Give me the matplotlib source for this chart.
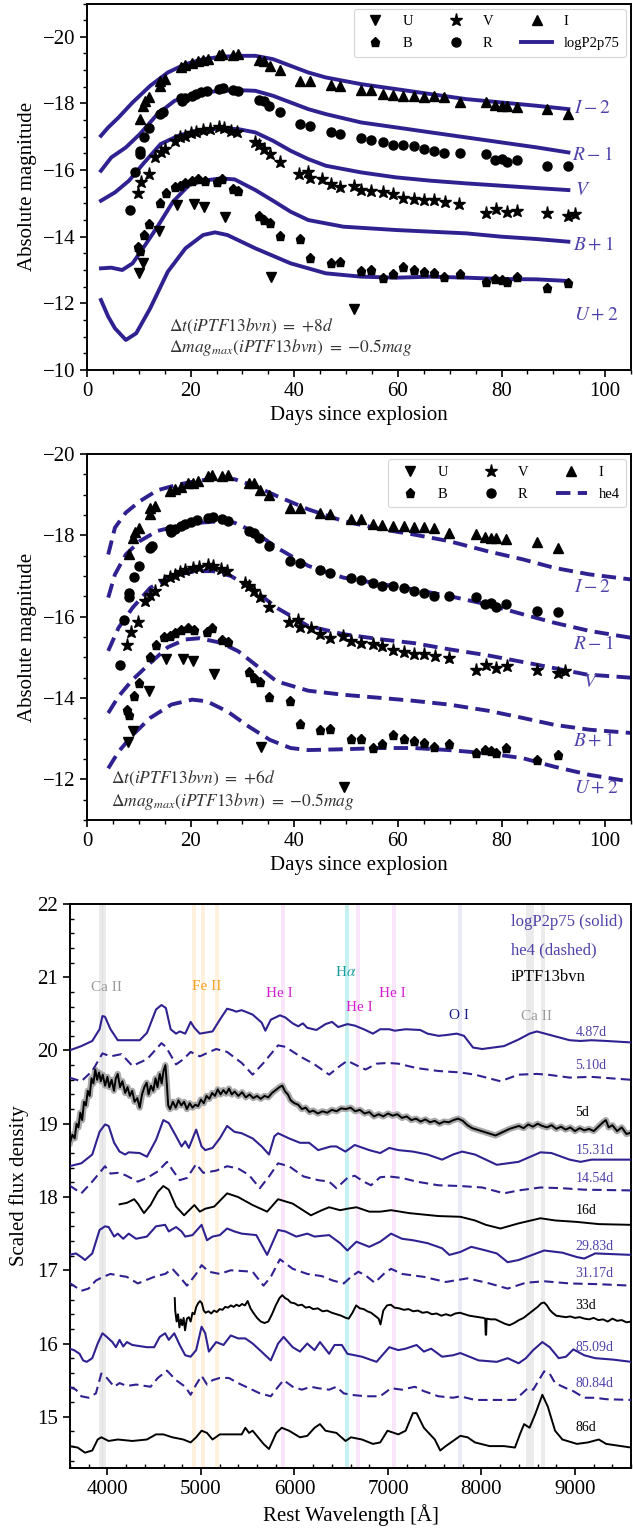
import numpy as np
import matplotlib
matplotlib.use("Agg")
import matplotlib.pyplot as plt
from matplotlib.lines import Line2D
from matplotlib.ticker import MultipleLocator

plt.rcParams['font.family'] = ['Liberation Serif', 'DejaVu Serif']
plt.rcParams['mathtext.fontset'] = 'stix'
plt.rcParams['axes.linewidth'] = 1.4
plt.rcParams['axes.unicode_minus'] = True

MODEL = '#2f2290'
LABEL = '#4f43aa'

# ---------------------------------------------------------------------------
# iPTF13bvn photometry: days after first epoch reference (shifted by dt per panel)
# ---------------------------------------------------------------------------
U_t = [2.0, 2.9, 5.9, 9.3, 12.6, 14.5, 18.6, 27.6, 43.6]
U_mag = [-14.92, -15.20, -16.17, -16.95, -16.97, -16.90, -16.60, -14.80, -13.82]

B_t = [1.8, 2.2, 3.1, 4.0, 6.1, 7.3, 8.9, 10.0, 11.0, 12.2, 13.4, 14.7, 17.1, 18.1,
       20.1, 21.2, 25.2, 26.2, 27.3, 29.2, 33.2, 35.1, 39.0, 40.9, 44.9, 46.9, 49.1,
       51.0, 53.0, 55.1, 57.1, 59.0, 60.9, 63.9, 69.0, 70.8, 72.0, 73.0, 74.9, 80.8, 84.9]
B_mag = [-14.70, -14.57, -15.05, -15.37, -16.00, -16.30, -16.50, -16.53, -16.60, -16.68,
         -16.73, -16.68, -16.63, -16.73, -16.43, -16.38, -15.63, -15.50, -15.40, -15.02,
         -14.93, -14.37, -14.22, -14.23, -13.98, -14.00, -13.77, -13.87, -14.08, -14.00,
         -13.95, -13.90, -13.80, -13.87, -13.65, -13.73, -13.70, -13.65, -13.78, -13.47, -13.60]

V_t = [1.8, 2.5, 3.9, 5.2, 6.2, 7.1, 8.9, 10.0, 11.0, 12.0, 13.0, 14.4, 15.7, 17.4, 18.4,
       19.8, 21.0, 24.5, 25.2, 26.2, 27.3, 29.2, 33.0, 34.7, 35.1, 37.3, 39.0, 40.9, 43.5,
       44.9, 46.9, 49.1, 51.0, 53.0, 55.1, 57.1, 59.0, 61.1, 63.8, 69.0, 71.0, 73.0, 75.0,
       80.8, 84.8, 86.2]
V_mag = [-15.30, -15.63, -15.88, -16.38, -16.53, -16.63, -16.88, -16.98, -17.03, -17.10,
         -17.15, -17.20, -17.23, -17.28, -17.25, -17.18, -17.13, -16.83, -16.75, -16.63,
         -16.48, -16.25, -15.88, -15.93, -15.75, -15.73, -15.58, -15.48, -15.53, -15.41,
         -15.36, -15.33, -15.28, -15.17, -15.13, -15.09, -15.09, -15.03, -14.99, -14.70,
         -14.82, -14.74, -14.78, -14.70, -14.62, -14.67]

R_t = [0.3, 1.2, 2.2, 2.2, 3.1, 4.0, 6.1, 6.6, 10.1, 10.3, 11.0, 12.2, 13.0, 14.0, 15.2,
       17.4, 18.3, 20.1, 21.2, 25.2, 26.2, 27.1, 29.2, 33.2, 35.1, 39.0, 40.9, 44.9, 46.9,
       49.1, 51.0, 53.0, 55.1, 57.1, 59.0, 60.9, 63.9, 69.0, 70.8, 72.0, 73.0, 74.9, 80.8, 84.9]
R_mag = [-13.80, -14.93, -15.58, -15.48, -15.98, -16.25, -16.68, -16.73, -17.15, -17.08,
         -17.15, -17.23, -17.28, -17.33, -17.38, -17.43, -17.45, -17.40, -17.36, -17.10,
         -17.06, -16.93, -16.75, -16.38, -16.33, -16.15, -16.08, -15.95, -15.90, -15.83,
         -15.76, -15.75, -15.71, -15.63, -15.58, -15.51, -15.51, -15.48, -15.31, -15.33,
         -15.25, -15.30, -15.13, -15.11]

I_t = [2.2, 2.8, 3.2, 4.0, 6.1, 6.1, 7.1, 10.1, 11.0, 12.2, 13.4, 14.4, 15.4, 17.4, 18.1,
       20.1, 21.2, 25.2, 26.2, 27.3, 29.2, 33.2, 35.1, 39.0, 40.9, 44.9, 46.9, 49.1, 51.0,
       53.0, 55.1, 57.1, 59.0, 60.9, 63.9, 69.0, 70.8, 72.0, 73.0, 74.9, 80.8, 84.9]
I_mag = [-15.53, -15.93, -16.08, -16.18, -16.53, -16.68, -16.73, -17.08, -17.15, -17.20,
         -17.28, -17.30, -17.33, -17.46, -17.48, -17.46, -17.48, -17.30, -17.28, -17.11,
         -17.00, -16.68, -16.68, -16.55, -16.53, -16.40, -16.40, -16.28, -16.25, -16.23,
         -16.23, -16.20, -16.21, -16.18, -16.05, -16.03, -15.96, -15.93, -15.93, -15.90,
         -15.83, -15.68]

bands = ['U', 'B', 'V', 'R', 'I']
band_offsets = {'U': 2, 'B': 1, 'V': 0, 'R': -1, 'I': -2}
band_labels = {'U': '$U+2$', 'B': '$B+1$', 'V': '$V$', 'R': '$R-1$', 'I': '$I-2$'}
band_markers = {'U': 'v', 'B': 'p', 'V': '*', 'R': 'o', 'I': '^'}
obs_t = {'U': U_t, 'B': B_t, 'V': V_t, 'R': R_t, 'I': I_t}
obs_mag = {'U': U_mag, 'B': B_mag, 'V': V_mag, 'R': R_mag, 'I': I_mag}

# ---------------------------------------------------------------------------
# Model light curves (days since explosion, absolute magnitude)
# ---------------------------------------------------------------------------
p75_t = {
    'I': [2.7, 4.1, 6.1, 8.8, 12.2, 15.6, 19.0, 22.4, 25.8, 29.2, 32.5, 35.9, 39.3, 42.7,
          46.1, 52.9, 59.7, 66.4, 73.2, 80.0, 86.8, 92.9],
    'R': [2.7, 4.7, 7.5, 10.2, 13.6, 16.9, 20.3, 24.4, 29.2, 32.5, 35.9, 39.3, 42.7, 46.1,
          52.9, 59.7, 66.4, 73.2, 80.0, 86.8, 92.9],
    'V': [2.7, 5.4, 8.1, 10.8, 14.2, 17.6, 21.0, 25.8, 29.2, 32.5, 35.9, 39.3, 42.7, 46.1,
          52.9, 59.7, 66.4, 73.2, 80.0, 86.8, 92.9],
    'B': [2.7, 4.7, 6.8, 8.8, 10.8, 13.6, 16.6, 19.7, 22.4, 25.8, 28.5, 32.5, 35.9, 39.3,
          42.7, 49.5, 59.7, 66.4, 73.2, 80.0, 86.8, 92.9],
    'U': [2.7, 4.1, 5.4, 7.5, 9.5, 12.2, 15.6, 19.0, 22.4, 24.7, 27.1, 32.5, 39.3, 46.1,
          52.9, 59.7, 66.4, 73.2, 80.0, 86.8, 92.9],
}
p75_mag = {
    'I': [-15.03, -15.28, -15.58, -16.03, -16.53, -16.93, -17.18, -17.33, -17.40, -17.43,
          -17.43, -17.33, -17.13, -16.93, -16.78, -16.58, -16.43, -16.28, -16.13, -16.03,
          -15.93, -15.83],
    'R': [-14.98, -15.38, -15.68, -16.08, -16.68, -17.08, -17.26, -17.36, -17.40, -17.38,
          -17.23, -17.03, -16.83, -16.68, -16.43, -16.28, -16.13, -15.98, -15.83, -15.68, -15.53],
    'V': [-15.08, -15.33, -15.68, -16.18, -16.78, -17.03, -17.18, -17.25, -17.23, -17.13,
          -16.88, -16.58, -16.33, -16.13, -15.93, -15.78, -15.68, -15.60, -15.53, -15.46, -15.40],
    'B': [-14.05, -14.07, -14.00, -14.20, -14.65, -15.30, -16.05, -16.55, -16.68, -16.75,
          -16.72, -16.40, -16.08, -15.75, -15.50, -15.30, -15.20, -15.15, -15.10, -15.00,
          -14.93, -14.85],
    'U': [-14.10, -13.60, -13.25, -12.90, -13.10, -13.85, -14.95, -15.65, -16.05, -16.13,
          -16.05, -15.65, -15.20, -14.90, -14.80, -14.77, -14.80, -14.77, -14.73, -14.72, -14.67],
}

he4_t = {
    'I': [4.1, 5.4, 7.5, 10.2, 13.6, 17.6, 21.7, 25.8, 28.5, 32.5, 36.6, 42.7, 49.5, 56.9,
          63.1, 69.8, 77.3, 84.1, 90.2, 97.0, 106.0],
    'R': [4.1, 5.4, 7.5, 10.2, 13.6, 17.6, 21.7, 25.8, 28.5, 32.5, 36.6, 42.7, 49.5, 56.9,
          63.1, 69.8, 77.3, 84.1, 90.2, 97.0, 106.0],
    'V': [4.1, 6.1, 8.8, 12.2, 16.3, 21.0, 24.4, 27.8, 32.5, 36.6, 42.7, 49.5, 56.9, 63.1,
          69.8, 77.3, 86.8, 96.3, 106.0],
    'B': [4.1, 6.1, 8.8, 12.2, 15.6, 19.0, 21.7, 25.8, 29.2, 32.5, 36.6, 42.7, 49.5, 56.9,
          63.1, 69.8, 77.3, 84.1, 90.2, 97.0, 106.0],
    'U': [4.1, 6.1, 8.8, 12.2, 16.3, 20.3, 23.1, 27.1, 31.2, 35.3, 39.3, 42.7, 49.5, 56.9,
          63.1, 69.8, 77.3, 84.1, 90.2, 97.0, 106.0],
}
he4_mag = {
    'I': [-15.53, -16.19, -16.56, -16.84, -17.11, -17.25, -17.35, -17.40, -17.38, -17.21,
          -16.97, -16.64, -16.35, -16.15, -16.02, -15.86, -15.61, -15.41, -15.20, -15.04, -14.90],
    'R': [-15.47, -16.04, -16.53, -16.86, -17.11, -17.23, -17.31, -17.35, -17.31, -17.07,
          -16.70, -16.25, -15.96, -15.80, -15.67, -15.51, -15.30, -15.06, -14.85, -14.65, -14.46],
    'V': [-15.16, -15.73, -16.22, -16.71, -17.00, -17.12, -17.12, -17.00, -16.63, -16.22,
          -15.77, -15.57, -15.44, -15.35, -15.20, -15.05, -14.82, -14.58, -14.49],
    'B': [-14.63, -15.04, -15.45, -15.86, -16.25, -16.44, -16.47, -16.36, -16.15, -15.82,
          -15.41, -15.18, -15.08, -15.00, -14.93, -14.84, -14.69, -14.51, -14.34, -14.22, -14.13],
    'U': [-14.27, -14.68, -15.09, -15.51, -15.84, -15.96, -15.92, -15.67, -15.30, -14.97,
          -14.77, -14.72, -14.74, -14.77, -14.77, -14.72, -14.64, -14.52, -14.31, -14.11, -13.92],
}

# ---------------------------------------------------------------------------
# Spectra (rest wavelength in Angstrom, scaled flux density incl. offsets)
# ---------------------------------------------------------------------------
wl_p75_487 = [3592, 3721, 3838, 3916, 3947, 3974, 4033, 4111, 4345, 4423, 4520, 4578, 4625,
              4676, 4734, 4774, 4832, 4890, 4930, 4988, 5124, 5202, 5280, 5338, 5377, 5436,
              5553, 5650, 5689, 5747, 5845, 5903, 5981, 6040, 6090, 6137, 6235, 6332, 6402,
              6468, 6566, 6644, 6741, 6839, 6917, 7014, 7072, 7189, 7345, 7423, 7540, 7618,
              7735, 7813, 7910, 8008, 8241, 8397, 8514, 8592, 8709, 8943, 9060, 9177, 9333, 9600]
fx_p75_487 = [20.00, 20.06, 20.13, 20.29, 20.47, 20.46, 20.29, 20.14, 20.14, 20.24, 20.56,
              20.62, 20.58, 20.29, 20.23, 20.26, 20.23, 20.39, 20.31, 20.23, 20.26, 20.42,
              20.57, 20.55, 20.53, 20.55, 20.49, 20.38, 20.27, 20.42, 20.48, 20.45, 20.37,
              20.33, 20.37, 20.31, 20.28, 20.36, 20.39, 20.32, 20.36, 20.34, 20.29, 20.23,
              20.29, 20.29, 20.27, 20.29, 20.28, 20.23, 20.20, 20.21, 20.23, 20.20, 20.04,
              20.02, 20.06, 20.15, 20.23, 20.26, 20.22, 20.14, 20.13, 20.14, 20.13, 20.11]

wl_he4_510 = [3592, 3721, 3838, 3947, 4033, 4150, 4267, 4423, 4578, 4625, 4734, 4812, 4890,
              4988, 5163, 5280, 5436, 5553, 5669, 5825, 5903, 6059, 6215, 6371, 6488, 6566,
              6644, 6761, 6878, 6995, 7111, 7306, 7540, 7774, 7930, 8203, 8397, 8592, 8709,
              8943, 9177, 9600]
fx_he4_510 = [19.63, 19.58, 19.72, 19.96, 19.92, 19.95, 19.79, 19.88, 20.10, 20.05, 19.81,
              19.88, 19.98, 19.92, 20.02, 19.98, 19.83, 19.67, 19.83, 20.07, 20.05, 19.92,
              19.81, 19.67, 19.79, 19.86, 19.81, 19.74, 19.82, 19.83, 19.82, 19.76, 19.72,
              19.70, 19.67, 19.58, 19.67, 19.68, 19.67, 19.63, 19.64, 19.60]

wl_obs_5 = [3600, 3625, 3650, 3670, 3690, 3710, 3730, 3750, 3770, 3790, 3810, 3830, 3850,
            3870, 3890, 3910, 3930, 3950, 3975, 4000, 4020, 4045, 4070, 4090, 4110, 4135,
            4160, 4190, 4215, 4240, 4265, 4290, 4320, 4345, 4370, 4395, 4420, 4440, 4465,
            4490, 4515, 4535, 4560, 4580, 4600, 4620, 4635, 4650, 4670, 4700, 4730, 4760,
            4790, 4820, 4850, 4880, 4910, 4940, 4970, 5000, 5030, 5060, 5090, 5120, 5150,
            5180, 5210, 5240, 5270, 5300, 5330, 5360, 5400, 5440, 5480, 5520, 5560, 5600,
            5640, 5680, 5720, 5760, 5800, 5840, 5870, 5900, 5930, 5960, 6000, 6040, 6080,
            6120, 6160, 6200, 6250, 6300, 6350, 6400, 6450, 6500, 6550, 6600, 6650, 6700,
            6750, 6800, 6850, 6900, 6950, 7000, 7050, 7100, 7150, 7200, 7250, 7300, 7350,
            7400, 7450, 7500, 7550, 7600, 7650, 7700, 7750, 7800, 7850, 7900, 7950, 8000,
            8050, 8100, 8150, 8200, 8250, 8300, 8350, 8400, 8450, 8500, 8550, 8600, 8650,
            8700, 8750, 8800, 8850, 8900, 8950, 9000, 9050, 9100, 9150, 9200, 9250, 9300,
            9330, 9360, 9400, 9450, 9500, 9550, 9600]
fx_obs_5 = [18.74, 18.85, 18.80, 19.00, 18.95, 19.15, 19.05, 19.30, 19.25, 19.45, 19.38,
            19.62, 19.55, 19.74, 19.60, 19.70, 19.58, 19.67, 19.52, 19.64, 19.50, 19.60,
            19.45, 19.62, 19.68, 19.50, 19.58, 19.42, 19.50, 19.38, 19.45, 19.30, 19.35,
            19.22, 19.40, 19.50, 19.56, 19.40, 19.52, 19.45, 19.62, 19.50, 19.68, 19.55,
            19.72, 19.80, 19.55, 19.25, 19.20, 19.30, 19.22, 19.32, 19.25, 19.30, 19.20,
            19.28, 19.22, 19.26, 19.24, 19.33, 19.28, 19.38, 19.34, 19.42, 19.38, 19.47,
            19.40, 19.46, 19.41, 19.48, 19.40, 19.44, 19.38, 19.43, 19.36, 19.40, 19.35,
            19.38, 19.34, 19.38, 19.36, 19.42, 19.46, 19.50, 19.52, 19.44, 19.40, 19.32,
            19.28, 19.26, 19.20, 19.22, 19.16, 19.18, 19.14, 19.17, 19.15, 19.19, 19.17,
            19.21, 19.20, 19.22, 19.17, 19.19, 19.14, 19.16, 19.10, 19.13, 19.10, 19.14,
            19.11, 19.13, 19.08, 19.10, 19.05, 19.07, 19.03, 19.06, 19.02, 19.04, 19.00,
            19.03, 19.02, 19.05, 19.07, 19.04, 18.98, 18.94, 18.92, 18.90, 18.88, 18.86,
            18.84, 18.87, 18.90, 18.93, 18.95, 18.97, 18.94, 18.99, 18.96, 19.00, 18.97,
            18.95, 18.98, 18.93, 18.96, 18.92, 18.95, 18.90, 18.94, 18.91, 18.93, 18.90,
            18.96, 19.02, 19.05, 18.95, 18.98, 18.90, 18.95, 18.86, 18.88]

wl_p75_1531 = [3592, 3721, 3838, 3916, 3974, 4013, 4072, 4130, 4189, 4228, 4345, 4423, 4520,
               4598, 4656, 4734, 4793, 4832, 4871, 4949, 5007, 5046, 5124, 5202, 5280, 5358,
               5436, 5553, 5650, 5728, 5786, 5825, 5942, 6059, 6157, 6254, 6390, 6449, 6546,
               6644, 6800, 6917, 7014, 7111, 7267, 7423, 7579, 7696, 7793, 7930, 8164, 8397,
               8631, 8748, 8943, 9060, 9177, 9600]
fx_p75_1531 = [18.42, 18.46, 18.58, 18.89, 18.99, 18.97, 18.74, 18.62, 18.58, 18.61, 18.60,
               18.55, 18.78, 19.05, 19.01, 18.83, 18.69, 18.76, 18.67, 18.92, 18.69, 18.64,
               18.67, 18.80, 18.97, 18.89, 18.87, 18.80, 18.69, 18.58, 18.83, 18.87, 18.80,
               18.74, 18.74, 18.64, 18.69, 18.69, 18.62, 18.71, 18.64, 18.60, 18.67, 18.64,
               18.62, 18.58, 18.51, 18.58, 18.62, 18.58, 18.44, 18.48, 18.61, 18.60, 18.51,
               18.48, 18.51, 18.51]

wl_he4_1454 = [3592, 3721, 3838, 3974, 4033, 4111, 4189, 4325, 4423, 4539, 4637, 4695, 4773,
               4851, 4949, 5026, 5163, 5280, 5397, 5514, 5630, 5728, 5825, 5942, 6098, 6254,
               6371, 6449, 6566, 6644, 6741, 6819, 6917, 7014, 7150, 7306, 7540, 7774, 8008,
               8241, 8397, 8631, 8865, 9099, 9600]
fx_he4_1454 = [18.16, 18.05, 18.21, 18.42, 18.32, 18.33, 18.30, 18.21, 18.26, 18.35, 18.48,
               18.37, 18.23, 18.26, 18.45, 18.33, 18.36, 18.42, 18.39, 18.30, 18.12, 18.28,
               18.46, 18.42, 18.28, 18.23, 18.21, 18.12, 18.26, 18.29, 18.21, 18.16, 18.27,
               18.28, 18.26, 18.21, 18.16, 18.15, 18.13, 18.05, 18.09, 18.13, 18.12, 18.10, 18.09]

wl_obs_16 = [4130, 4208, 4286, 4325, 4391, 4461, 4539, 4598, 4656, 4734, 4820, 4890, 4930,
             4988, 5046, 5143, 5280, 5397, 5553, 5708, 5825, 5981, 6176, 6293, 6371, 6488,
             6566, 6663, 6800, 6917, 7033, 7228, 7540, 7774, 7930, 8047, 8203, 8397, 8631,
             8787, 9021, 9255, 9600]
fx_obs_16 = [17.90, 17.92, 17.97, 17.91, 17.78, 17.89, 18.07, 18.15, 18.10, 17.87, 17.75,
             17.84, 17.89, 17.80, 17.84, 17.87, 18.05, 18.00, 17.89, 17.80, 17.97, 17.91,
             17.75, 17.82, 17.86, 17.82, 17.84, 17.86, 17.80, 17.80, 17.82, 17.78, 17.74,
             17.73, 17.68, 17.62, 17.57, 17.64, 17.71, 17.68, 17.66, 17.63, 17.62]

wl_p75_2983 = [3592, 3663, 3721, 3760, 3838, 3916, 3974, 4013, 4072, 4111, 4169, 4228, 4306,
               4422, 4520, 4617, 4656, 4734, 4793, 4832, 4910, 5007, 5065, 5124, 5202, 5280,
               5358, 5436, 5592, 5708, 5825, 5903, 6020, 6137, 6215, 6371, 6488, 6566, 6663,
               6800, 6917, 7033, 7150, 7267, 7423, 7579, 7657, 7774, 7891, 8047, 8164, 8280,
               8397, 8670, 8865, 9021, 9099, 9216, 9600]
fx_p75_2983 = [17.21, 17.23, 17.18, 17.14, 17.23, 17.55, 17.60, 17.59, 17.46, 17.50, 17.43,
               17.50, 17.43, 17.46, 17.60, 17.62, 17.53, 17.59, 17.53, 17.46, 17.48, 17.62,
               17.41, 17.46, 17.48, 17.57, 17.53, 17.50, 17.48, 17.21, 17.55, 17.53, 17.46,
               17.50, 17.46, 17.48, 17.37, 17.27, 17.39, 17.32, 17.39, 17.50, 17.43, 17.41,
               17.37, 17.30, 17.21, 17.25, 17.32, 17.27, 17.23, 17.11, 17.14, 17.27, 17.24,
               17.18, 17.16, 17.23, 17.21]

wl_he4_3117 = [3592, 3663, 3721, 3799, 3877, 3955, 4033, 4111, 4208, 4325, 4422, 4520, 4617,
               4695, 4773, 4851, 4949, 5007, 5085, 5202, 5319, 5436, 5553, 5669, 5747, 5845,
               5981, 6137, 6293, 6410, 6527, 6605, 6683, 6761, 6858, 6955, 7033, 7150, 7384,
               7618, 7852, 8086, 8280, 8475, 8670, 8943, 9255, 9600]
fx_he4_3117 = [16.83, 16.77, 16.72, 16.75, 16.86, 16.91, 16.95, 16.93, 16.91, 16.82, 16.87,
               16.92, 16.95, 17.02, 16.91, 16.79, 16.95, 17.07, 16.98, 16.95, 17.00, 16.99,
               16.98, 16.79, 16.91, 17.15, 17.02, 16.95, 16.92, 16.86, 16.82, 16.91, 16.98,
               16.93, 16.83, 16.95, 17.02, 16.95, 16.91, 16.84, 16.89, 16.82, 16.75, 16.83,
               16.85, 16.82, 16.81, 16.79]

wl_obs_33 = [4720, 4725, 4740, 4755, 4770, 4785, 4800, 4815, 4830, 4850, 4870, 4890, 4910,
             4930, 4950, 4970, 4990, 5010, 5030, 5050, 5080, 5110, 5140, 5170, 5200, 5230,
             5260, 5290, 5320, 5350, 5380, 5410, 5440, 5470, 5500, 5530, 5560, 5600, 5640,
             5680, 5720, 5760, 5800, 5840, 5870, 5900, 5930, 5960, 6000, 6040, 6080, 6120,
             6160, 6200, 6250, 6300, 6350, 6400, 6450, 6500, 6550, 6580, 6620, 6660, 6700,
             6740, 6780, 6820, 6860, 6900, 6920, 6950, 6990, 7030, 7070, 7120, 7170, 7220,
             7270, 7320, 7370, 7420, 7470, 7520, 7570, 7620, 7670, 7720, 7770, 7820, 7870,
             7920, 7970, 8020, 8040, 8045, 8050, 8055, 8100, 8150, 8200, 8250, 8300, 8350,
             8400, 8450, 8500, 8550, 8600, 8640, 8670, 8700, 8730, 8760, 8800, 8850, 8900,
             8950, 9000, 9050, 9100, 9150, 9200, 9250, 9300, 9350, 9400, 9450, 9500, 9550, 9600]
fx_obs_33 = [16.62, 16.45, 16.30, 16.40, 16.22, 16.33, 16.25, 16.35, 16.18, 16.34, 16.36,
             16.30, 16.42, 16.40, 16.50, 16.55, 16.58, 16.55, 16.45, 16.42, 16.44, 16.41,
             16.45, 16.43, 16.47, 16.46, 16.50, 16.49, 16.52, 16.50, 16.53, 16.51, 16.54,
             16.52, 16.58, 16.48, 16.42, 16.35, 16.30, 16.28, 16.30, 16.40, 16.52, 16.62,
             16.66, 16.62, 16.60, 16.56, 16.55, 16.52, 16.53, 16.49, 16.50, 16.47, 16.48,
             16.44, 16.45, 16.42, 16.40, 16.38, 16.35, 16.34, 16.42, 16.52, 16.48, 16.47,
             16.44, 16.42, 16.38, 16.34, 16.26, 16.45, 16.52, 16.53, 16.49, 16.48, 16.46,
             16.47, 16.44, 16.45, 16.42, 16.43, 16.40, 16.41, 16.38, 16.40, 16.38, 16.41,
             16.42, 16.40, 16.38, 16.37, 16.36, 16.35, 16.34, 16.12, 16.12, 16.34, 16.33,
             16.33, 16.30, 16.27, 16.25, 16.28, 16.32, 16.35, 16.40, 16.45, 16.50, 16.55,
             16.56, 16.52, 16.46, 16.42, 16.38, 16.37, 16.36, 16.37, 16.35, 16.36, 16.34,
             16.33, 16.35, 16.32, 16.33, 16.30, 16.34, 16.31, 16.32, 16.29, 16.30]

wl_p75_8509 = [3592, 3643, 3702, 3740, 3779, 3838, 3896, 3947, 3994, 4053, 4091, 4130, 4169,
               4208, 4267, 4422, 4500, 4559, 4617, 4656, 4715, 4773, 4832, 4890, 4949, 5007,
               5046, 5085, 5163, 5241, 5319, 5397, 5475, 5553, 5630, 5747, 5825, 5884, 5981,
               6059, 6137, 6215, 6273, 6371, 6429, 6507, 6566, 6722, 6878, 7014, 7111, 7189,
               7306, 7384, 7462, 7579, 7696, 7774, 7969, 8164, 8280, 8397, 8475, 8553, 8651,
               8729, 8826, 8904, 8982, 9099, 9216, 9411, 9600]
fx_p75_8509 = [15.93, 15.91, 15.86, 15.77, 15.75, 15.80, 16.00, 16.14, 16.09, 16.02, 15.95,
               16.05, 15.96, 16.02, 15.98, 15.95, 15.95, 16.09, 16.14, 16.05, 16.14, 15.98,
               15.84, 15.82, 15.91, 16.23, 16.14, 15.89, 16.02, 15.98, 16.11, 16.07, 16.07,
               16.00, 15.91, 15.77, 16.00, 16.09, 15.95, 15.89, 16.00, 15.91, 16.02, 15.86,
               15.98, 15.98, 15.86, 15.82, 15.75, 15.95, 15.91, 15.93, 15.98, 15.89, 15.93,
               15.82, 15.84, 15.87, 15.77, 15.75, 15.80, 15.73, 15.80, 15.91, 16.02, 15.95,
               15.80, 15.82, 15.92, 15.84, 15.80, 15.78, 15.75]

wl_he4_8084 = [3592, 3663, 3721, 3799, 3877, 3935, 3994, 4072, 4130, 4208, 4306, 4461, 4539,
               4637, 4734, 4832, 4890, 4949, 5007, 5065, 5124, 5202, 5299, 5397, 5514, 5630,
               5747, 5825, 5884, 5981, 6079, 6176, 6254, 6371, 6449, 6527, 6605, 6761, 6917,
               7033, 7150, 7287, 7384, 7540, 7696, 7774, 7930, 8164, 8358, 8436, 8495, 8553,
               8670, 8729, 8787, 8904, 8982, 9099, 9216, 9333, 9600]
fx_he4_8084 = [15.41, 15.37, 15.28, 15.26, 15.32, 15.59, 15.53, 15.41, 15.46, 15.42, 15.44,
               15.41, 15.53, 15.63, 15.50, 15.41, 15.30, 15.44, 15.56, 15.44, 15.50, 15.53,
               15.53, 15.46, 15.39, 15.32, 15.28, 15.41, 15.50, 15.41, 15.37, 15.41, 15.39,
               15.37, 15.41, 15.32, 15.30, 15.28, 15.28, 15.39, 15.37, 15.41, 15.35, 15.28,
               15.26, 15.28, 15.23, 15.23, 15.23, 15.32, 15.39, 15.37, 15.62, 15.59, 15.46,
               15.39, 15.35, 15.26, 15.26, 15.24, 15.23]

wl_obs_86 = [3592, 3682, 3760, 3838, 3896, 3935, 4013, 4111, 4267, 4422, 4520, 4598, 4695,
             4812, 4890, 4949, 5007, 5065, 5124, 5202, 5319, 5436, 5475, 5514, 5553, 5611,
             5669, 5728, 5806, 5864, 5942, 6059, 6137, 6215, 6273, 6332, 6449, 6546, 6605,
             6722, 6839, 6917, 6995, 7111, 7189, 7267, 7306, 7384, 7501, 7559, 7618, 7696,
             7774, 7852, 7930, 8086, 8241, 8358, 8417, 8456, 8514, 8573, 8651, 8709, 8787,
             8865, 9021, 9138, 9255, 9333, 9600]
fx_obs_86 = [14.60, 14.58, 14.51, 14.54, 14.69, 14.72, 14.67, 14.69, 14.67, 14.69, 14.76,
             14.76, 14.72, 14.69, 14.65, 14.72, 14.81, 14.78, 14.69, 14.76, 14.76, 14.76,
             14.85, 14.78, 14.81, 14.72, 14.63, 14.56, 14.78, 14.85, 14.81, 14.72, 14.74,
             14.85, 14.90, 14.81, 14.78, 14.67, 14.72, 14.69, 14.63, 14.65, 14.81, 14.76,
             14.81, 15.05, 15.05, 14.85, 14.69, 14.54, 14.60, 14.67, 14.74, 14.72, 14.65,
             14.60, 14.60, 14.58, 14.78, 14.90, 14.85, 15.03, 15.30, 15.14, 14.81, 14.69,
             14.63, 14.65, 14.69, 14.63, 14.58]

# spectrum sequence: (wavelengths, fluxes, source, epoch label, label flux position)
spectra = [
    (wl_p75_487, fx_p75_487, 'logP2p75', '4.87d', 20.24),
    (wl_he4_510, fx_he4_510, 'he4', '5.10d', 19.80),
    (wl_obs_5, fx_obs_5, 'iPTF13bvn', '5d', 19.15),
    (wl_p75_1531, fx_p75_1531, 'logP2p75', '15.31d', 18.64),
    (wl_he4_1454, fx_he4_1454, 'he4', '14.54d', 18.25),
    (wl_obs_16, fx_obs_16, 'iPTF13bvn', '16d', 17.82),
    (wl_p75_2983, fx_p75_2983, 'logP2p75', '29.83d', 17.33),
    (wl_he4_3117, fx_he4_3117, 'he4', '31.17d', 16.95),
    (wl_obs_33, fx_obs_33, 'iPTF13bvn', '33d', 16.52),
    (wl_p75_8509, fx_p75_8509, 'logP2p75', '85.09d', 15.94),
    (wl_he4_8084, fx_he4_8084, 'he4', '80.84d', 15.46),
    (wl_obs_86, fx_obs_86, 'iPTF13bvn', '86d', 14.86),
]

# line identifications: name, rest wavelengths, band colour, text colour, label position
line_ids = [
    ('Ca II', [3934, 3968], '#c8c8c8', '#9a9a9a', 3995, 20.86),
    ('Fe II', [4924, 5018, 5169], '#ffd9a3', '#f5a020', 5060, 20.88),
    ('He I', [5876], '#f2b8f2', '#d21fd2', 5841, 20.78),
    (r'H$\alpha$', [6563], '#5fd8d8', '#1f9e9e', 6550, 21.07),
    ('He I', [6678], '#f2b8f2', '#d21fd2', 6698, 20.58),
    ('He I', [7065], '#f2b8f2', '#d21fd2', 7049, 20.78),
    ('O I', [7774], '#c5c5e8', '#1c1c8c', 7762, 20.48),
    ('Ca II', [8498, 8542, 8662], '#c8c8c8', '#9a9a9a', 8584, 20.46),
]

# ---------------------------------------------------------------------------
fig = plt.figure(figsize=(6.33, 15.35), dpi=100)
ax1 = fig.add_axes([0.1374, 0.7590, 0.8596, 0.2387])
ax2 = fig.add_axes([0.1374, 0.4658, 0.8596, 0.2384])
ax3 = fig.add_axes([0.1106, 0.0436, 0.8864, 0.3675])


def light_curve_panel(ax, dt, mod_t, mod_mag, ls, model_name, ylim,
                      label_pos, note_pos, note_dt):
    handles = []
    for b in bands:
        ms = 9.5 if b == 'V' else 6.5
        h, = ax.plot(np.array(obs_t[b]) + dt, np.array(obs_mag[b]) + band_offsets[b],
                     ls='none', marker=band_markers[b], color='black', ms=ms,
                     label=b, zorder=3)
        handles.append(h)
    for b in bands:
        ax.plot(mod_t[b], np.array(mod_mag[b]) + band_offsets[b], color=MODEL,
                lw=2.8, ls=ls, zorder=2)
    mh = Line2D([], [], color=MODEL, lw=2.8, ls=ls, label=model_name)
    handles.append(mh)
    leg = ax.legend(handles=handles, loc='upper right', ncol=3, fontsize=10.5,
                    frameon=True, fancybox=True, edgecolor='#cccccc',
                    handlelength=2.1, columnspacing=1.9, borderaxespad=0.35,
                    labelspacing=0.6, borderpad=0.45)
    leg.get_frame().set_linewidth(0.8)
    for b in bands:
        x, y = label_pos[b]
        ax.text(x, y, band_labels[b], color=LABEL, fontsize=14,
                ha='center', va='center')
    ax.text(note_pos[0], note_pos[1],
            r'$\Delta t(iPTF13bvn)\ =\ {+}%dd$' % note_dt, fontsize=12.5,
            color='#333333', va='center', ha='left')
    ax.text(note_pos[0], note_pos[2],
            r'$\Delta mag_{max}(iPTF13bvn)\ =\ {-}0.5mag$', fontsize=12.5,
            color='#333333', va='center', ha='left')
    ax.set_xlim(0, 105)
    ax.set_ylim(*ylim)
    ax.xaxis.set_major_locator(MultipleLocator(20))
    ax.xaxis.set_minor_locator(MultipleLocator(5))
    ax.yaxis.set_major_locator(MultipleLocator(2))
    ax.yaxis.set_minor_locator(MultipleLocator(0.5))
    ax.tick_params(which='major', direction='out', length=5, width=1.2, labelsize=15)
    ax.tick_params(which='minor', direction='out', length=3, width=1.0)
    ax.set_xlabel('Days since explosion', fontsize=15, labelpad=4)
    ax.set_ylabel('Absolute magnitude', fontsize=15, labelpad=4)


light_curve_panel(
    ax1, 8, p75_t, p75_mag, '-', 'logP2p75', (-10, -21),
    {'I': (97.6, -17.86), 'R': (97.6, -16.46), 'V': (95.6, -15.38),
     'B': (97.8, -13.75), 'U': (98.3, -11.65)},
    (15.9, -11.30, -10.68), 8)

light_curve_panel(
    ax2, 6, he4_t, he4_mag, (0, (3.7, 1.9)), 'he4', (-11, -20),
    {'I': (97.6, -16.71), 'R': (97.8, -15.34), 'V': (97.3, -14.37),
     'B': (97.8, -12.93), 'U': (98.3, -11.79)},
    (4.7, -12.02, -11.45), 6)

# ---------------------------------------------------------------------------
# spectral panel
for name, lams, band_c, text_c, tx, ty in line_ids:
    for lam in lams:
        ax3.axvspan(lam - 21, lam + 21, color=band_c, alpha=0.35, lw=0, zorder=0)
    ax3.text(tx, ty, name, color=text_c, fontsize=11, ha='center', va='center')

for wl, fx, src, epoch, ylab in spectra:
    if src == 'logP2p75':
        ax3.plot(wl, fx, color=MODEL, lw=1.5, zorder=3)
        tc = LABEL
    elif src == 'he4':
        ax3.plot(wl, fx, color=MODEL, lw=1.5, ls=(0, (4.5, 2.5)), zorder=3)
        tc = LABEL
    else:
        if epoch == '5d':
            ax3.plot(wl, fx, color='#a9a9a9', lw=4.5, zorder=2, solid_joinstyle='round')
        ax3.plot(wl, fx, color='black', lw=1.4, zorder=3)
        tc = 'black'
    ax3.text(9005, ylab, epoch, color=tc, fontsize=10, ha='left', va='center')

ax3.text(8311, 21.75, 'logP2p75 (solid)', color=LABEL, fontsize=12, ha='left', va='center')
ax3.text(8311, 21.37, 'he4 (dashed)', color=LABEL, fontsize=12, ha='left', va='center')
ax3.text(8311, 21.00, 'iPTF13bvn', color='black', fontsize=12, ha='left', va='center')

ax3.set_xlim(3600, 9600)
ax3.set_ylim(14.3, 22)
ax3.xaxis.set_major_locator(MultipleLocator(1000))
ax3.xaxis.set_minor_locator(MultipleLocator(200))
ax3.yaxis.set_major_locator(MultipleLocator(1))
ax3.yaxis.set_minor_locator(MultipleLocator(0.2))
ax3.tick_params(which='major', direction='out', length=5, width=1.2, labelsize=15)
ax3.tick_params(which='minor', direction='in', length=3, width=1.0)
ax3.set_xlabel('Rest Wavelength [Å]', fontsize=15, labelpad=4)
ax3.set_ylabel('Scaled flux density', fontsize=15, labelpad=6)

fig.savefig('out.png', dpi=100)
